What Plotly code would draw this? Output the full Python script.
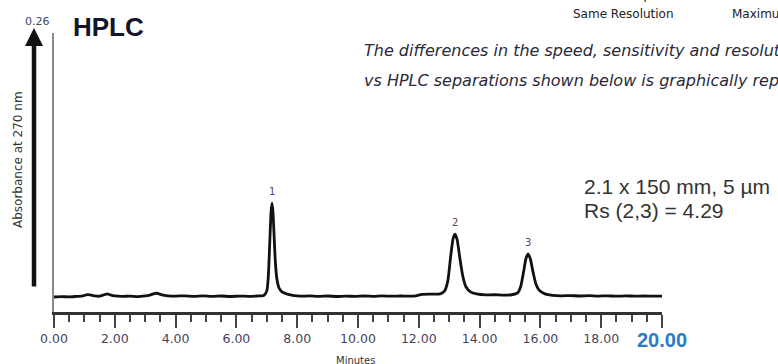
import plotly.graph_objects as go

# Chromatogram trace (minutes, AU)
time_min = [0.00, 0.25, 0.50, 0.75, 0.95, 1.10, 1.20, 1.35, 1.50, 1.65, 1.75, 1.85, 2.00,
            2.25, 2.50, 2.75, 3.00, 3.15, 3.30, 3.40, 3.55, 3.75, 4.00, 4.30, 4.60, 4.90,
            5.20, 5.50, 5.80, 6.10, 6.40, 6.70, 6.90, 7.00, 7.05, 7.10, 7.14, 7.17, 7.20,
            7.24, 7.28, 7.33, 7.40, 7.50, 7.65, 7.85, 8.10, 8.40, 8.70, 9.00, 9.30, 9.60,
            9.90, 10.20, 10.50, 10.80, 11.10, 11.40, 11.70, 11.90, 12.10, 12.40, 12.70,
            12.85, 12.95, 13.05, 13.13, 13.19, 13.26, 13.35, 13.45, 13.55, 13.70, 13.90,
            14.20, 14.50, 14.80, 15.05, 15.25, 15.35, 15.45, 15.53, 15.60, 15.67, 15.76,
            15.86, 15.98, 16.15, 16.40, 16.70, 17.00, 17.30, 17.60, 17.90, 18.20, 18.50,
            18.80, 19.10, 19.40, 19.70, 20.00]
absorbance = [0.0000, 0.0004, 0.0001, 0.0006, 0.0010, 0.0024, 0.0020, 0.0010, 0.0008, 0.0022,
              0.0030, 0.0020, 0.0010, 0.0006, 0.0009, 0.0004, 0.0010, 0.0018, 0.0034, 0.0036,
              0.0020, 0.0012, 0.0009, 0.0012, 0.0007, 0.0011, 0.0006, 0.0010, 0.0005, 0.0009,
              0.0007, 0.0010, 0.0014, 0.0060, 0.0200, 0.0550, 0.0830, 0.0915, 0.0840, 0.0600,
              0.0350, 0.0180, 0.0090, 0.0050, 0.0030, 0.0016, 0.0008, 0.0011, 0.0006, 0.0010,
              0.0005, 0.0009, 0.0006, 0.0010, 0.0007, 0.0011, 0.0008, 0.0010, 0.0009, 0.0012,
              0.0025, 0.0028, 0.0030, 0.0060, 0.0150, 0.0400, 0.0570, 0.0613, 0.0560, 0.0380,
              0.0200, 0.0100, 0.0050, 0.0030, 0.0020, 0.0022, 0.0018, 0.0022, 0.0040, 0.0100,
              0.0250, 0.0380, 0.0419, 0.0370, 0.0240, 0.0120, 0.0060, 0.0030, 0.0016, 0.0012,
              0.0014, 0.0010, 0.0013, 0.0009, 0.0012, 0.0008, 0.0011, 0.0009, 0.0010, 0.0008,
              0.0009]

peak_labels = ["1", "2", "3"]
peak_times = [7.17, 13.19, 15.60]
peak_heights = [0.0915, 0.0613, 0.0419]

tick_vals = [0, 2, 4, 6, 8, 10, 12, 14, 16, 18, 20]
tick_text = ["0.00", "2.00", "4.00", "6.00", "8.00", "10.00", "12.00", "14.00", "16.00", "18.00", ""]

fig = go.Figure()
fig.add_trace(go.Scatter(x=time_min, y=absorbance, mode="lines",
                         line=dict(color="#111111", width=2.8, shape="spline", smoothing=0.6),
                         hoverinfo="skip", showlegend=False))

for lab, t, h in zip(peak_labels, peak_times, peak_heights):
    fig.add_annotation(x=t, y=h, text=lab, showarrow=False, xanchor="center", yanchor="bottom",
                       yshift=4, font=dict(family="DejaVu Sans", size=10, color="#5a3f6a"))

W, H = 778, 364
L, R, T, B = 54, 116, 33, 52
pw, ph = W - L - R, H - T - B

def px(xp):
    return (xp - L) / pw

def py(yp):
    return (H - B - yp) / ph

def note(xp, yp, text, size, color, family="DejaVu Sans", xanchor="center", angle=0):
    fig.add_annotation(xref="paper", yref="paper", x=px(xp), y=py(yp), text=text,
                       showarrow=False, xanchor=xanchor, yanchor="middle", textangle=angle,
                       font=dict(family=family, size=size, color=color))

# y-axis arrow
fig.add_annotation(xref="paper", yref="paper", x=px(34), y=py(28), ax=0, ay=260,
                   text="", showarrow=True, arrowhead=2, arrowsize=0.8, arrowwidth=4.5,
                   arrowcolor="#111111", standoff=0)
note(37, 21, "0.26", 11, "#3e4a6a")
note(18, 160, "Absorbance at 270 nm", 12, "#333333", angle=-90)
note(71, 27, "<b>HPLC</b>", 26, "#14142a", family="Liberation Sans", xanchor="left")

# Header fragments (clipped at the top / right edge like the source)
note(623, -5, "Maximum Speed", 12, "#222222")
note(623, 14, "Same Resolution", 12, "#222222")
note(730, -5, "Maximum Resolution", 12, "#222222", xanchor="left")
note(730, 14, "Maximum Resolution", 12, "#222222", xanchor="left")
note(362, 50, "<i>The differences in the speed, sensitivity and resolution of UPLC</i>",
     16, "#2a2a3a", xanchor="left")
note(362, 80, "<i>vs HPLC separations shown below is graphically represented</i>",
     16, "#2a2a3a", xanchor="left")

# Column info
note(582, 186, "2.1 x 150 mm, 5 µm", 21, "#333333", family="Liberation Sans", xanchor="left")
note(582, 210, "Rs (2,3) = 4.29", 21, "#333333", family="Liberation Sans", xanchor="left")

# 20.00 label and axis title
note(662, 340, "<b>20.00</b>", 20, "#2a7cc7", family="Liberation Sans")
note(355, 360, "Minutes", 10, "#333333")

fig.update_layout(
    width=W, height=H,
    margin=dict(l=L, r=R, t=T, b=B, pad=0),
    paper_bgcolor="white", plot_bgcolor="white",
    showlegend=False,
    xaxis=dict(range=[0, 20], tickmode="array", tickvals=tick_vals, ticktext=tick_text,
               ticks="outside", ticklen=13, tickwidth=2, tickcolor="#444444",
               minor=dict(dtick=0.5, tick0=0, ticks="outside", ticklen=7, tickwidth=1.6,
                          tickcolor="#444444", showgrid=False),
               showline=True, linecolor="#333333", linewidth=2.5, showgrid=False,
               zeroline=False, tickfont=dict(family="DejaVu Sans", size=12.5, color="#4a3f5c"),
               fixedrange=True),
    yaxis=dict(range=[-0.0146, 0.2571], showline=True, linecolor="#8a8a8a", linewidth=2,
               showticklabels=False, ticks="", showgrid=False, zeroline=False,
               fixedrange=True),
)

fig.write_html("out.html")
